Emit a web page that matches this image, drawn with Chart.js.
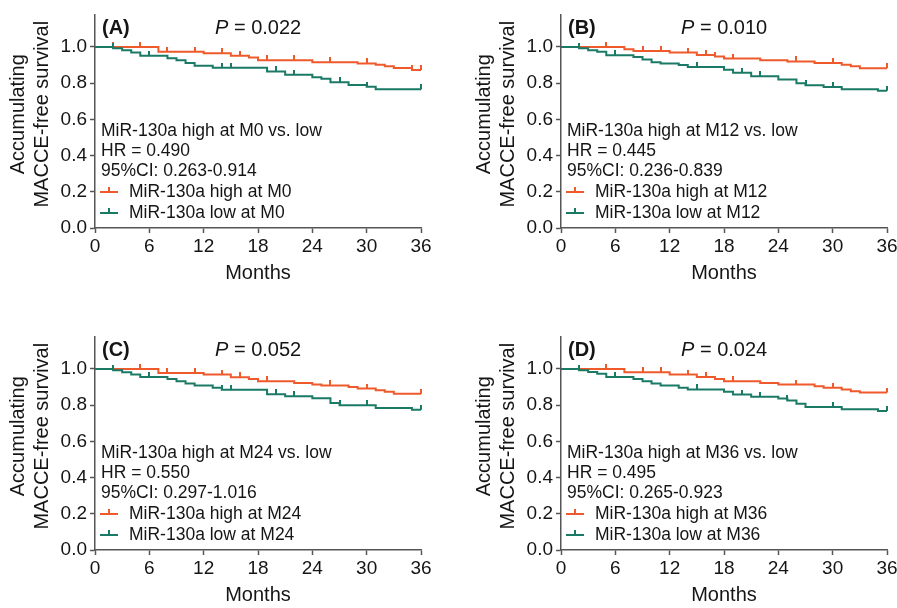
<!DOCTYPE html>
<html>
<head>
<meta charset="utf-8">
<script src="https://cdn.jsdelivr.net/npm/chart.js@4.4.1/dist/chart.umd.min.js"></script>
<style>
  html, body { margin: 0; padding: 0; background: #fff; overflow: hidden; width: 897px; height: 608px; }
  .panel { position: absolute; }
</style>
</head>
<body>
<div class="panel" style="left:0;top:0"><canvas id="chartA" width="448" height="300"></canvas></div>
<div class="panel" style="left:466px;top:0"><canvas id="chartB" width="448" height="300"></canvas></div>
<div class="panel" style="left:0;top:322px"><canvas id="chartC" width="448" height="300"></canvas></div>
<div class="panel" style="left:466px;top:322px"><canvas id="chartD" width="448" height="300"></canvas></div>
<script>
(function() {
	'use strict';

	// Axis ticks
	const xTicks = [0, 6, 12, 18, 24, 30, 36];
	const yTicks = [0, 0.2, 0.4, 0.6, 0.8, 1.0];
	const yTickLabels = ['0.0', '0.2', '0.4', '0.6', '0.8', '1.0'];

	// Panel texts
	const panelLabels = ['(A)', '(B)', '(C)', '(D)'];
	const pValues = ['0.022', '0.010', '0.052', '0.024'];
	const timepoints = ['M0', 'M12', 'M24', 'M36'];
	const hrValues = ['0.490', '0.445', '0.550', '0.495'];
	const ciValues = ['0.263-0.914', '0.236-0.839', '0.297-1.016', '0.265-0.923'];

	// Panel A (M0): event times (months) and survival after each step, censor marks
	const aHighT = [0, 7, 12, 15, 17, 18, 24, 29, 31, 32, 33, 35, 36];
	const aHighS = [1, 0.974, 0.965, 0.951, 0.942, 0.927, 0.916, 0.909, 0.902, 0.893, 0.884, 0.873, 0.873];
	const aHighCens = [2, 5, 8, 11, 14, 16, 19, 22, 26, 30, 35, 36];
	const aLowT = [0, 2, 3, 4, 5, 8, 9, 10, 11, 13, 19, 21, 24, 25, 26, 28, 30, 31, 36];
	const aLowS = [1, 0.993, 0.982, 0.969, 0.951, 0.938, 0.927, 0.911, 0.896, 0.885, 0.865, 0.847, 0.833, 0.824, 0.805, 0.79, 0.78, 0.766, 0.766];
	const aLowCens = [2, 6, 14, 15, 20, 22, 27, 30, 36];

	// Panel B (M12)
	const bHighT = [0, 7, 8, 12, 15, 17, 18, 22, 25, 28, 31, 32, 33, 36];
	const bHighS = [1, 0.987, 0.978, 0.969, 0.956, 0.947, 0.936, 0.927, 0.92, 0.911, 0.902, 0.894, 0.883, 0.883];
	const bHighCens = [5, 9, 11, 14, 16, 17, 19, 26, 30, 36];
	const bLowT = [0, 2, 3, 4, 5, 8, 9, 10, 11, 13, 14, 18, 19, 21, 24, 26, 27, 29, 31, 35, 36];
	const bLowS = [1, 0.993, 0.982, 0.973, 0.955, 0.944, 0.931, 0.916, 0.909, 0.9, 0.889, 0.874, 0.857, 0.839, 0.821, 0.8, 0.789, 0.779, 0.767, 0.758, 0.758];
	const bLowCens = [2, 6, 15, 20, 22, 27, 30, 36];

	// Panel C (M24)
	const cHighT = [0, 7, 12, 15, 17, 18, 22, 24, 25, 28, 29, 31, 32, 33, 36];
	const cHighS = [1, 0.978, 0.969, 0.954, 0.945, 0.932, 0.923, 0.914, 0.909, 0.9, 0.892, 0.883, 0.874, 0.863, 0.863];
	const cHighCens = [5, 8, 11, 14, 16, 19, 26, 30, 36];
	const cLowT = [0, 2, 3, 4, 5, 8, 9, 10, 11, 13, 14, 19, 21, 24, 26, 27, 31, 35, 36];
	const cLowS = [1, 0.993, 0.982, 0.969, 0.956, 0.945, 0.932, 0.92, 0.909, 0.896, 0.885, 0.86, 0.85, 0.838, 0.812, 0.8, 0.785, 0.775, 0.775];
	const cLowCens = [2, 6, 14, 15, 20, 22, 27, 30, 36];

	// Panel D (M36)
	const dHighT = [0, 7, 12, 15, 17, 18, 22, 24, 28, 29, 31, 32, 33, 36];
	const dHighS = [1, 0.982, 0.969, 0.956, 0.945, 0.932, 0.923, 0.914, 0.905, 0.896, 0.887, 0.877, 0.87, 0.87];
	const dHighCens = [5, 9, 11, 14, 16, 19, 26, 30, 36];
	const dLowT = [0, 2, 3, 4, 5, 8, 9, 10, 11, 13, 14, 18, 19, 21, 24, 25, 26, 27, 31, 35, 36];
	const dLowS = [1, 0.993, 0.984, 0.973, 0.956, 0.945, 0.932, 0.92, 0.909, 0.896, 0.887, 0.874, 0.859, 0.846, 0.837, 0.826, 0.808, 0.79, 0.777, 0.768, 0.768];
	const dLowCens = [2, 6, 15, 20, 22, 25, 30, 36];

	const HIGH_COLOR = '#EE5A2C';
	const LOW_COLOR = '#1A7A66';
	const AXIS_COLOR = '#555555';
	const TEXT_COLOR = '#151515';
	const FONT = '"Liberation Sans", Arial, Helvetica, sans-serif';

	// Build {x, y} points for a step curve
	function toPoints(times, surv) {
		return times.map(function(t, i) {
			return { x: t, y: surv[i] };
		});
	}

	// Survival value at a given time (step function)
	function survAt(times, surv, t) {
		let v = surv[0];
		for (let i = 0; i < times.length; i++) {
			if (times[i] <= t) {
				v = surv[i];
			}
		}
		return v;
	}

	// Small upward tick used as censor mark
	function censorMark(color) {
		const c = document.createElement('canvas');
		c.width = 2;
		c.height = 10;
		const g = c.getContext('2d');
		g.fillStyle = color;
		g.fillRect(0, 0, 2, 5);
		return c;
	}

	const highMark = censorMark(HIGH_COLOR);
	const lowMark = censorMark(LOW_COLOR);

	// Draws panel label, P value, HR text block, legend and y title
	const overlayPlugin = {
		id: 'kmOverlay',
		afterDraw: function(chart, args, opts) {
			const ctx = chart.ctx;
			const area = chart.chartArea;
			const i = opts.index;
			ctx.save();
			ctx.fillStyle = TEXT_COLOR;
			ctx.textBaseline = 'middle';
			ctx.textAlign = 'left';

			// header
			ctx.font = 'bold 20px ' + FONT;
			ctx.fillText(panelLabels[i], area.left + 7, area.top + 14);
			ctx.font = 'italic 20px ' + FONT;
			const px = area.left + 120;
			ctx.fillText('P', px, area.top + 14);
			const pw = ctx.measureText('P').width;
			ctx.font = '20px ' + FONT;
			ctx.fillText(' = ' + pValues[i], px + pw, area.top + 14);

			// HR block
			ctx.font = '17.5px ' + FONT;
			const tx = area.left + 6;
			ctx.fillText('MiR-130a high at ' + timepoints[i] + ' vs. low', tx, area.bottom - 97);
			ctx.fillText('HR = ' + hrValues[i], tx, area.bottom - 77);
			ctx.fillText('95%CI: ' + ciValues[i], tx, area.bottom - 57);

			// legend
			const items = [
				{ text: 'MiR-130a high at ' + timepoints[i], color: HIGH_COLOR, y: area.bottom - 36 },
				{ text: 'MiR-130a low at ' + timepoints[i], color: LOW_COLOR, y: area.bottom - 15 }
			];
			items.forEach(function(it) {
				ctx.strokeStyle = it.color;
				ctx.lineWidth = 2;
				ctx.beginPath();
				ctx.moveTo(area.left + 5, it.y);
				ctx.lineTo(area.left + 23, it.y);
				ctx.moveTo(area.left + 14, it.y);
				ctx.lineTo(area.left + 14, it.y - 5);
				ctx.stroke();
				ctx.fillStyle = TEXT_COLOR;
				ctx.fillText(it.text, area.left + 34, it.y);
			});

			// y axis title, two lines
			ctx.font = '20px ' + FONT;
			ctx.textAlign = 'center';
			const cy = (area.top + area.bottom) / 2 - 7;
			ctx.translate(18, cy);
			ctx.rotate(-Math.PI / 2);
			ctx.fillText('Accumulating', 0, 0);
			ctx.fillText('MACCE-free survival', 0, 24);
			ctx.restore();
		}
	};

	function makeChart(id, index, highT, highS, highCens, lowT, lowS, lowCens) {
		const ctx = document.getElementById(id).getContext('2d');
		const tickFont = { family: FONT, size: 19 };
		return new Chart(ctx, {
			type: 'line',
			data: {
				datasets: [
					{
						label: 'low',
						data: toPoints(lowT, lowS),
						borderColor: LOW_COLOR,
						borderWidth: 2,
						stepped: 'before',
						pointRadius: 0,
						fill: false,
						clip: false,
						order: 1
					},
					{
						label: 'low censored',
						data: lowCens.map(function(t) { return { x: t, y: survAt(lowT, lowS, t) }; }),
						showLine: false,
						pointStyle: lowMark,
						pointRadius: 3,
						clip: false,
						order: 0
					},
					{
						label: 'high',
						data: toPoints(highT, highS),
						borderColor: HIGH_COLOR,
						borderWidth: 2,
						stepped: 'before',
						pointRadius: 0,
						fill: false,
						clip: false,
						order: 3
					},
					{
						label: 'high censored',
						data: highCens.map(function(t) { return { x: t, y: survAt(highT, highS, t) }; }),
						showLine: false,
						pointStyle: highMark,
						pointRadius: 3,
						clip: false,
						order: 2
					}
				]
			},
			options: {
				responsive: false,
				animation: false,
				devicePixelRatio: 1,
				layout: { padding: { top: 11, right: 27, left: 0, bottom: 0 } },
				plugins: {
					legend: { display: false },
					tooltip: { enabled: false },
					kmOverlay: { index: index }
				},
				scales: {
					x: {
						type: 'linear',
						min: 0,
						max: 36,
						afterBuildTicks: function(scale) {
							scale.ticks = xTicks.map(function(v) { return { value: v }; });
						},
						afterFit: function(scale) { scale.height = 72; },
						ticks: { color: TEXT_COLOR, font: tickFont, padding: 2, maxRotation: 0, autoSkip: false },
						grid: { display: true, drawOnChartArea: false, drawTicks: true, tickLength: 5, tickWidth: 1.5, tickColor: AXIS_COLOR },
						border: { display: true, color: AXIS_COLOR, width: 1.5 },
						title: { display: true, text: 'Months', color: TEXT_COLOR, font: { family: FONT, size: 20 }, padding: { top: 0, bottom: 15 } }
					},
					y: {
						type: 'linear',
						min: 0,
						max: 1.18,
						afterBuildTicks: function(scale) {
							scale.ticks = yTicks.map(function(v) { return { value: v }; });
						},
						afterFit: function(scale) { scale.width = 95; },
						ticks: {
							color: TEXT_COLOR,
							font: tickFont,
							padding: 3,
							callback: function(value, i) { return yTickLabels[i]; }
						},
						grid: { display: true, drawOnChartArea: false, drawTicks: true, tickLength: 5, tickWidth: 1.5, tickColor: AXIS_COLOR },
						border: { display: true, color: AXIS_COLOR, width: 1.5 }
					}
				}
			},
			plugins: [overlayPlugin]
		});
	}

	makeChart('chartA', 0, aHighT, aHighS, aHighCens, aLowT, aLowS, aLowCens);
	makeChart('chartB', 1, bHighT, bHighS, bHighCens, bLowT, bLowS, bLowCens);
	makeChart('chartC', 2, cHighT, cHighS, cHighCens, cLowT, cLowS, cLowCens);
	makeChart('chartD', 3, dHighT, dHighS, dHighCens, dLowT, dLowS, dLowCens);
})();
</script>
</body>
</html>
